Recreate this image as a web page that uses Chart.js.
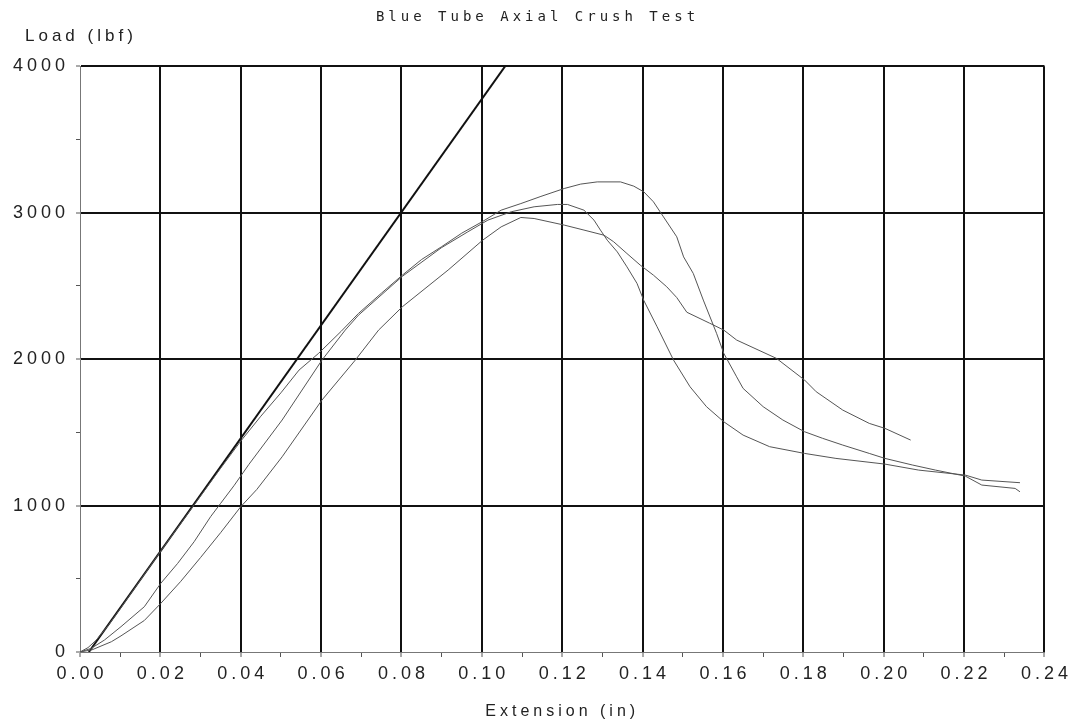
<!DOCTYPE html>
<html>
<head>
<meta charset="utf-8">
<title>Blue Tube Axial Crush Test</title>
<script src="https://cdn.jsdelivr.net/npm/chart.js@4.4.0/dist/chart.umd.min.js"></script>
<style>
    html, body { margin: 0; padding: 0; background: #fff; }
    #wrap { width: 1076px; height: 721px; }
</style>
</head>
<body>
<div id="wrap"><canvas id="crushChart"></canvas></div>
<script>
const chartTitle = 'Blue Tube Axial Crush Test';
const xTitle = 'Extension (in)';
const yTitle = 'Load (lbf)';

// specimen 1 (highest peak)
const spec1Ext = [0, 0.002, 0.004, 0.007, 0.010, 0.015, 0.020, 0.025, 0.030, 0.035, 0.040, 0.045, 0.050, 0.0545,
    0.0594, 0.065, 0.0693, 0.075, 0.0802, 0.085, 0.0899, 0.095, 0.1002, 0.1048, 0.1097, 0.1147, 0.1205, 0.1246,
    0.1287, 0.1345, 0.1378, 0.1403, 0.1427, 0.1452, 0.1485, 0.1502, 0.1526, 0.1551, 0.1584, 0.1602, 0.1634, 0.165,
    0.170, 0.1749, 0.1803, 0.1848, 0.1898, 0.1964, 0.2003, 0.2071, 0.2129, 0.2203, 0.2244, 0.2327, 0.2339];
const spec1Load = [0, 30, 80, 180, 295, 490, 685, 875, 1065, 1255, 1440, 1610, 1770, 1925,
    2040, 2190, 2312, 2450, 2573, 2680, 2766, 2860, 2940, 3017, 3062, 3111, 3165, 3195,
    3210, 3210, 3181, 3142, 3074, 2971, 2835, 2698, 2585, 2403, 2176, 2039, 1879, 1800,
    1675, 1584, 1504, 1459, 1413, 1356, 1322, 1277, 1242, 1201, 1140, 1117, 1094];

// specimen 2
const spec2Ext = [0, 0.0028, 0.0061, 0.0102, 0.016, 0.0201, 0.0243, 0.0284, 0.0325, 0.035, 0.0383, 0.042, 0.0503,
    0.0602, 0.066, 0.0693, 0.0802, 0.0899, 0.0965, 0.1015, 0.1073, 0.113, 0.1188, 0.1213, 0.1254, 0.1279, 0.1295,
    0.1312, 0.1337, 0.1361, 0.1386, 0.1403, 0.1436, 0.1477, 0.1518, 0.1559, 0.1602, 0.165, 0.1716, 0.1803, 0.1881,
    0.2003, 0.2087, 0.2203, 0.2244, 0.2339];
const spec2Load = [0, 25, 82, 173, 309, 469, 605, 753, 924, 1015, 1135, 1280, 1584,
    1993, 2198, 2300, 2565, 2760, 2869, 2949, 3006, 3040, 3056, 3056, 3017, 2949, 2881,
    2812, 2732, 2630, 2517, 2400, 2221, 1993, 1811, 1675, 1572, 1481, 1402, 1356, 1322,
    1283, 1242, 1208, 1174, 1156];

// specimen 3 (lowest peak, shortest run)
const spec3Ext = [0, 0.003, 0.0078, 0.0102, 0.016, 0.0201, 0.025, 0.030, 0.035, 0.040, 0.044, 0.0503, 0.0602,
    0.0685, 0.0743, 0.0802, 0.0916, 0.1002, 0.1048, 0.1097, 0.113, 0.1205, 0.1254, 0.1304, 0.1328, 0.1361, 0.1394,
    0.1427, 0.146, 0.1485, 0.151, 0.1567, 0.1602, 0.1634, 0.1733, 0.1803, 0.1832, 0.1898, 0.1964, 0.2003, 0.2067];
const spec3Load = [0, 15, 70, 110, 215, 332, 480, 645, 815, 992, 1110, 1333, 1720,
    1993, 2198, 2357, 2608, 2812, 2903, 2967, 2960, 2915, 2881, 2846, 2801, 2721, 2642,
    2573, 2494, 2420, 2320, 2245, 2198, 2130, 2005, 1857, 1777, 1652, 1561, 1527, 1447];

// modulus line
const modulusExt = [0.0022, 0.1058];
const modulusLoad = [0, 4000];

const toPoints = (xs, ys) => xs.map((x, i) => ({ x: x, y: ys[i] }));

// canvas letter spacing, like the spaced-out labels of the original plot
const spacedText = {
    id: 'spacedText',
    beforeLayout(chart) { chart.ctx.letterSpacing = '4px'; },
    // y labels hang left of the narrow axis box, so widen the label clip
    afterLayout(chart) { chart.scales.y.left = 0; },
    beforeDraw(chart) { chart.ctx.letterSpacing = '4px'; }
};

const curveStyle = {
    showLine: true,
    pointRadius: 0,
    borderColor: '#555',
    borderWidth: 1,
    tension: 0
};

const labelFont = { family: 'Liberation Sans', size: 18, weight: 'normal' };

new Chart(document.getElementById('crushChart'), {
    type: 'scatter',
    data: {
        datasets: [
            { ...curveStyle, data: toPoints(spec1Ext, spec1Load) },
            { ...curveStyle, data: toPoints(spec2Ext, spec2Load) },
            { ...curveStyle, data: toPoints(spec3Ext, spec3Load) },
            { ...curveStyle, borderColor: '#111', borderWidth: 2, data: toPoints(modulusExt, modulusLoad) }
        ]
    },
    options: {
        responsive: true,
        maintainAspectRatio: false,
        animation: false,
        layout: { padding: { left: 25, right: 26, top: 0, bottom: 0 } },
        plugins: {
            legend: { display: false },
            tooltip: { enabled: false },
            title: {
                display: true,
                text: chartTitle,
                color: '#222',
                font: { family: 'DejaVu Sans Mono', size: 14, weight: 'normal' },
                padding: { top: 9, bottom: 0 }
            },
            subtitle: {
                display: true,
                text: yTitle,
                align: 'start',
                color: '#222',
                font: { family: 'Liberation Sans', size: 17, weight: 'normal' },
                padding: { top: 0, bottom: 20 }
            }
        },
        scales: {
            x: {
                type: 'linear',
                min: 0,
                max: 0.24,
                afterFit(scale) { scale.height = 69; },
                ticks: {
                    stepSize: 0.01,
                    autoSkip: false,
                    maxRotation: 0,
                    padding: 6,
                    labelOffset: 2,
                    color: '#222',
                    font: labelFont,
                    callback: (v, i) => (i % 2 === 0 ? Number(v).toFixed(2) : '')
                },
                grid: {
                    color: ctx => (ctx.index === 0 || ctx.index % 2 === 1 ? 'rgba(0,0,0,0)' : '#111'),
                    lineWidth: ctx => (ctx.index % 2 === 1 ? 1 : 2),
                    tickLength: 5,
                    tickColor: '#555',
                    tickWidth: 1
                },
                border: { color: '#777', width: 1 },
                title: {
                    display: true,
                    text: xTitle,
                    color: '#222',
                    font: { family: 'Liberation Sans', size: 16, weight: 'normal' },
                    padding: { top: 0, bottom: 0 }
                }
            },
            y: {
                type: 'linear',
                min: 0,
                max: 4000,
                afterFit(scale) { scale.width = 55; },
                ticks: {
                    stepSize: 500,
                    autoSkip: false,
                    padding: 7,
                    color: '#222',
                    font: labelFont,
                    callback: (v, i) => (i % 2 === 0 ? String(v) : '')
                },
                grid: {
                    color: ctx => (ctx.index === 0 || ctx.index % 2 === 1 ? 'rgba(0,0,0,0)' : '#111'),
                    lineWidth: ctx => (ctx.index % 2 === 1 ? 1 : 2),
                    tickLength: 4,
                    tickColor: '#555',
                    tickWidth: 1
                },
                border: { color: '#777', width: 1 }
            }
        }
    },
    plugins: [spacedText]
});
</script>
</body>
</html>
